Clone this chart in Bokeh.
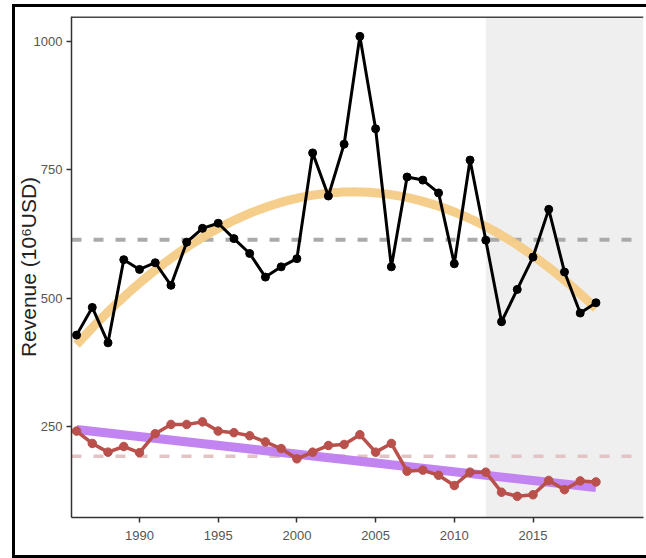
import numpy as np
from bokeh.plotting import figure
from bokeh.models import (BoxAnnotation, Span, FixedTicker, ColumnDataSource, Range1d)
from bokeh.embed import file_html
from bokeh.resources import INLINE

# ---- data ----
years = list(range(1986, 2020))
revenue_total = [428, 482, 413, 575, 556, 569, 525, 609, 636, 646, 616, 587, 541, 561,
                 577, 783, 699, 800, 1010, 830, 561, 736, 730, 705, 567, 769, 613, 454,
                 517, 580, 673, 551, 471, 491]
revenue_sub = [241, 217, 200, 211, 199, 236, 254, 254, 259, 241, 238, 232, 220, 207,
               187, 200, 213, 215, 234, 200, 217, 163, 165, 155, 135, 161, 161, 122,
               114, 117, 145, 127, 144, 142]
sub_trend_years = [1986, 2019]
sub_trend_values = [244, 131]
shade_start = 2012
x_ticks = [1990, 1995, 2000, 2005, 2010, 2015]
y_ticks = [250, 500, 750, 1000]
y_label = "Revenue (10\u2076USD)"

# ---- derived quadratic trend of the total series ----
yr = np.array(years, dtype=float)
c2 = np.polyfit(yr, revenue_total, 2)
xf = np.linspace(yr.min(), yr.max(), 200)
fit_total = ColumnDataSource(dict(x=xf, y=np.polyval(c2, xf)))
fit_sub = ColumnDataSource(dict(x=sub_trend_years, y=sub_trend_values))
src = ColumnDataSource(dict(year=years, total=revenue_total, sub=revenue_sub))

frame_css = ("linear-gradient(#000,#000) 12px 4px / 3px 554px no-repeat, "
             "linear-gradient(#000,#000) 12px 4px / 634px 3px no-repeat, "
             "linear-gradient(#000,#000) 12px 555px / 634px 3px no-repeat, #fff")

p = figure(width=646, height=558, output_backend="svg", toolbar_location=None,
           x_range=Range1d(1985.68, 2022.02), y_range=Range1d(72.7, 1048.7),
           min_border_left=71, min_border_right=3, min_border_top=16, min_border_bottom=41,
           styles={"background": frame_css})
p.outline_line_color = None
p.xgrid.visible = False
p.ygrid.visible = False
p.background_fill_color = "white"
p.border_fill_color = None

# shaded period
p.add_layout(BoxAnnotation(left=shade_start, fill_color="#efefef", fill_alpha=1.0,
                           line_color=None, level="underlay"))

# mean lines
p.add_layout(Span(location=float(np.mean(revenue_total)), dimension="width",
                  line_color="#aaaaaa", line_width=4, line_dash="10 12", level="underlay"))
p.add_layout(Span(location=float(np.mean(revenue_sub)), dimension="width",
                  line_color="#e3c4c4", line_width=3.5, line_dash="10 12", level="underlay"))

# trends
p.line("x", "y", source=fit_total, line_color="#f4cb86", line_width=9, line_alpha=0.95)
p.line("x", "y", source=fit_sub, line_color="#bf7df0", line_width=9, line_alpha=0.95)

# series
p.line("year", "total", source=src, line_color="black", line_width=3)
p.scatter("year", "total", source=src, size=8, color="black")
p.line("year", "sub", source=src, line_color="#b9504b", line_width=3.5)
p.scatter("year", "sub", source=src, size=8.5, marker="circle", color="#b9504b")

# top panel border
p.add_layout(Span(location=1048.7, dimension="width", line_color="#444444", line_width=3))

# axes
for ax in (p.xaxis[0], p.yaxis[0]):
    ax.axis_line_color = "#333333"
    ax.axis_line_width = 1.5
    ax.major_tick_line_color = "#333333"
    ax.major_tick_line_width = 1.5
    ax.major_tick_out = 5
    ax.major_tick_in = 0
    ax.minor_tick_line_color = None
    ax.major_label_text_font = "Liberation Sans"
    ax.major_label_text_font_size = "13px"
    ax.major_label_text_color = "#555555"
    ax.major_label_standoff = 4
p.xaxis[0].major_label_standoff = 8
p.xaxis[0].ticker = FixedTicker(ticks=x_ticks)
p.yaxis[0].ticker = FixedTicker(ticks=y_ticks)
p.yaxis[0].axis_label = y_label
p.yaxis[0].axis_label_text_font = "Liberation Sans"
p.yaxis[0].axis_label_text_font_size = "21px"
p.yaxis[0].axis_label_text_font_style = "normal"
p.yaxis[0].axis_label_text_color = "#222222"
p.yaxis[0].axis_label_standoff = -9

open("out.html", "w").write(file_html(p, INLINE))
